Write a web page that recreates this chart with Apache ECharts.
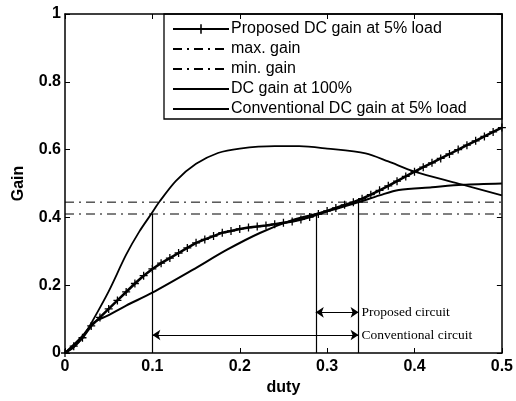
<!DOCTYPE html>
<html><head><meta charset="utf-8">
<script src="https://cdn.jsdelivr.net/npm/echarts@6/dist/echarts.min.js"></script>
<style>html,body{margin:0;padding:0;background:#fff}#c{width:516px;height:401px}</style>
</head><body><div id="c"></div>
<script>
// Proposed DC gain at 5% load (duty step 0.01)
const proposedDuty = [0,0.01,0.02,0.03,0.04,0.05,0.06,0.07,0.08,0.09,0.10,0.11,0.12,0.13,0.14,0.15,0.16,0.17,0.18,0.19,0.20,0.21,0.22,0.23,0.24,0.25,0.26,0.27,0.28,0.29,0.30,0.31,0.32,0.33,0.34,0.35,0.36,0.37,0.38,0.39,0.40,0.41,0.42,0.43,0.44,0.45,0.46,0.47,0.48,0.49,0.50];
const proposedGain = [0,0.02,0.045,0.08,0.105,0.13,0.155,0.18,0.205,0.228,0.248,0.265,0.28,0.295,0.31,0.325,0.335,0.345,0.355,0.36,0.366,0.37,0.373,0.376,0.38,0.384,0.388,0.394,0.401,0.41,0.419,0.428,0.437,0.445,0.455,0.467,0.48,0.493,0.507,0.521,0.535,0.548,0.561,0.574,0.587,0.6,0.613,0.626,0.639,0.652,0.665];
// DC gain at 100%
const fullDuty = [0,0.01,0.02,0.032,0.05,0.07,0.085,0.1,0.108,0.127,0.15,0.175,0.2,0.24,0.268,0.3,0.344,0.37,0.4,0.45,0.5];
const fullGain = [0,0.017,0.045,0.097,0.182,0.29,0.358,0.415,0.446,0.508,0.558,0.59,0.603,0.61,0.61,0.603,0.589,0.565,0.535,0.5,0.465];
// Conventional DC gain at 5% load
const convDuty = [0,0.02,0.032,0.05,0.07,0.1,0.146,0.185,0.223,0.26,0.287,0.31,0.337,0.36,0.382,0.42,0.455,0.5];
const convGain = [0,0.05,0.088,0.112,0.14,0.178,0.245,0.304,0.354,0.392,0.41,0.425,0.446,0.465,0.481,0.489,0.496,0.5];
// gain limits
const maxGain = 0.445;
const minGain = 0.41;
// crossing duties and arrow levels
const dConvStart = 0.1, dPropStart = 0.287, dEnd = 0.336;
const arrowPropY = 0.12, arrowConvY = 0.053;
const xTicks = [0, 0.5, 0.1];
const yTicks = [0, 1, 0.2];
const legendNames = ['Proposed DC gain at 5% load','max. gain','min. gain','DC gain at 100%','Conventional DC gain at 5% load'];

const zip = (a,b)=>a.map((v,i)=>[v,b[i]]);
const plus = 'path://M-0.16,-1H0.16V-0.16H1V0.16H0.16V1H-0.16V0.16H-1V-0.16H-0.16Z';
const dashDot = [9,5,2,5];
const font = 'Liberation Sans, Arial, sans-serif';
const serif = 'Liberation Serif, Times New Roman, serif';
const hidden = {color:'rgba(0,0,0,0)',borderColor:'rgba(0,0,0,0)',borderWidth:0,opacity:0};

const axisCommon = {
  axisLine:{show:true,onZero:false,lineStyle:{color:'#000',width:1.5}},
  axisTick:{show:true,inside:true,length:5,lineStyle:{color:'#000',width:1}},
  splitLine:{show:false}
};
const labelStyle = {color:'#000',fontSize:16,fontWeight:'bold',fontFamily:font};
const chart = echarts.init(document.getElementById('c'),null,{renderer:'canvas'});
chart.setOption({
  animation:false,
  backgroundColor:'#fff',
  grid:{left:65,right:13,top:14,bottom:48},
  xAxis:[
    Object.assign({type:'value',min:xTicks[0],max:xTicks[1],interval:xTicks[2],position:'bottom',
      name:'duty',nameLocation:'middle',nameGap:26,
      nameTextStyle:labelStyle,
      axisLabel:Object.assign({margin:6,formatter:v=>String(+v.toFixed(1))},labelStyle)},axisCommon),
    Object.assign({type:'value',min:xTicks[0],max:xTicks[1],interval:xTicks[2],position:'top',axisLabel:{show:false}},axisCommon)
  ],
  yAxis:[
    Object.assign({type:'value',min:yTicks[0],max:yTicks[1],interval:yTicks[2],position:'left',
      name:'Gain',nameLocation:'middle',nameGap:38,nameRotate:90,
      nameTextStyle:labelStyle,
      axisLabel:Object.assign({margin:4,formatter:v=>String(+v.toFixed(1))},labelStyle)},axisCommon),
    Object.assign({type:'value',min:yTicks[0],max:yTicks[1],interval:yTicks[2],position:'right',axisLabel:{show:false}},axisCommon)
  ],
  legend:{
    data:[
      {name:legendNames[0]},
      {name:legendNames[1],itemStyle:hidden},
      {name:legendNames[2],itemStyle:hidden},
      {name:legendNames[3],itemStyle:hidden},
      {name:legendNames[4],itemStyle:hidden}
    ],
    orient:'vertical', left:172, top:21, padding:0,
    itemWidth:56, itemHeight:12, itemGap:4,
    textStyle:{color:'#000',fontSize:16,lineHeight:16,fontFamily:font,padding:[0,0,0,-3]}
  },
  graphic:[{type:'rect',shape:{x:164,y:14,width:338,height:105},style:{fill:'none',stroke:'#000',lineWidth:1.3},z:100}],
  series:[
    {name:legendNames[0],type:'line',data:zip(proposedDuty,proposedGain),
      symbol:plus,symbolSize:8,showSymbol:true,
      itemStyle:{color:'#000'},lineStyle:{color:'#000',width:2.5},z:5},
    {name:legendNames[1],type:'line',data:[[xTicks[0],maxGain],[xTicks[1],maxGain]],symbol:'none',
      lineStyle:{color:'#000',width:1,type:dashDot},itemStyle:{color:'#000'}},
    {name:legendNames[2],type:'line',data:[[xTicks[0],minGain],[xTicks[1],minGain]],symbol:'none',
      lineStyle:{color:'#000',width:1,type:dashDot},itemStyle:{color:'#000'},
      markLine:{silent:true,animation:false,symbolSize:8,
        lineStyle:{color:'#000',width:1.2,type:'solid'},
        label:{show:false},
        data:[
          [{coord:[dConvStart,0],symbol:'none'},{coord:[dConvStart,minGain],symbol:'none'}],
          [{coord:[dPropStart,0],symbol:'none'},{coord:[dPropStart,minGain],symbol:'none'}],
          [{coord:[dEnd,0],symbol:'none'},{coord:[dEnd,maxGain],symbol:'none'}],
          [{coord:[dPropStart,arrowPropY],symbol:'arrow',
             label:{show:true,position:'end',distance:3,formatter:'Proposed circuit',color:'#000',fontSize:13.5,fontFamily:serif}},
           {coord:[dEnd,arrowPropY],symbol:'arrow'}],
          [{coord:[dConvStart,arrowConvY],symbol:'arrow',
             label:{show:true,position:'end',distance:3,formatter:'Conventional circuit',color:'#000',fontSize:13.5,fontFamily:serif}},
           {coord:[dEnd,arrowConvY],symbol:'arrow'}]
        ]}},
    {name:legendNames[3],type:'line',data:zip(fullDuty,fullGain),symbol:'none',smooth:0.3,
      lineStyle:{color:'#000',width:1.8},itemStyle:{color:'#000'}},
    {name:legendNames[4],type:'line',data:zip(convDuty,convGain),symbol:'none',smooth:0.3,
      lineStyle:{color:'#000',width:2},itemStyle:{color:'#000'}}
  ]
});
</script></body></html>
